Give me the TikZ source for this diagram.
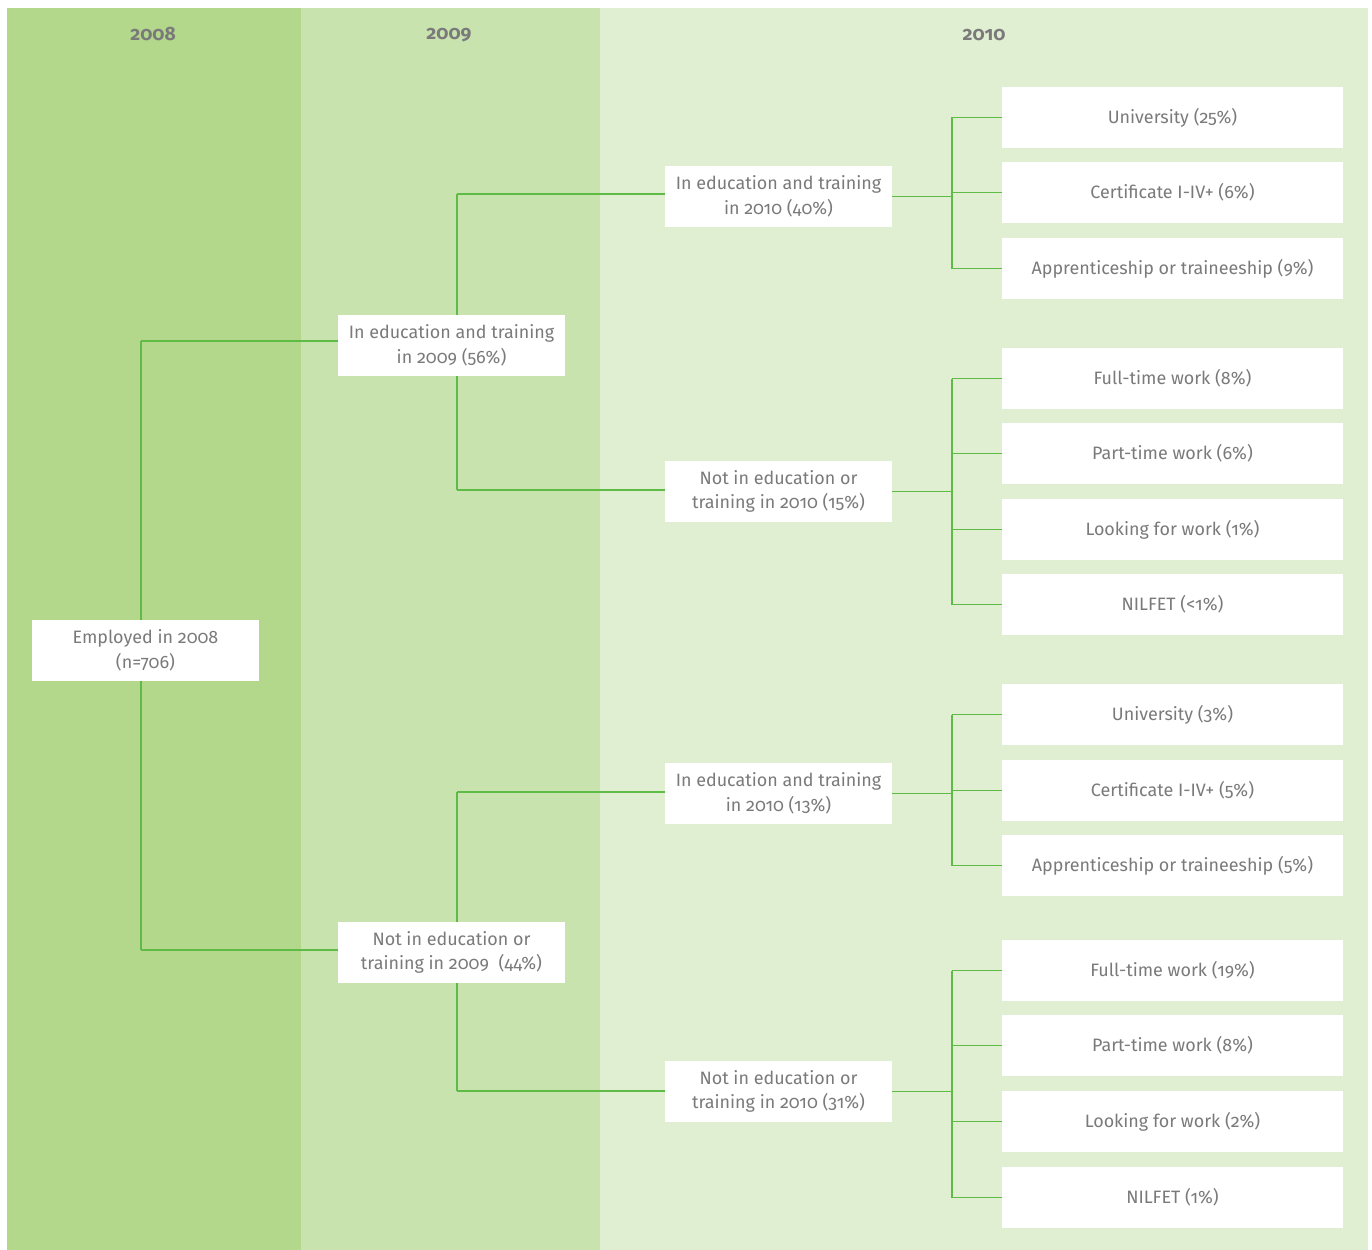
\documentclass[tikz,border=0pt]{standalone}
\usepackage{fontspec}
\setmainfont{Fira Sans}[Numbers=OldStyle]
\definecolor{colA}{HTML}{B3D78B}
\definecolor{colB}{HTML}{C9E3AF}
\definecolor{colC}{HTML}{E0EED1}
\definecolor{txt}{HTML}{7A7A7A}
\definecolor{ln}{HTML}{5DBB46}
\begin{document}
\begin{tikzpicture}[x=0.02cm,y=-0.02cm,
  box/.style={fill=white,text=txt,align=center,inner sep=0pt,minimum width=4.54cm,minimum height=1.22cm,font=\fontsize{10.2}{13.9}\selectfont},
  leaf/.style={box,minimum width=6.82cm},
  hdr/.style={text=txt,font=\fontsize{11}{12}\selectfont\bfseries},
  conn/.style={draw=ln,line width=0.8pt}]
\useasboundingbox (0,0) rectangle (1372,1250);
\fill[colA] (7,8) rectangle (301,1250);
\fill[colB] (301,8) rectangle (600,1250);
\fill[colC] (600,8) rectangle (1368,1250);
\node[hdr] (h1) at (153,34) {2008};
\node[hdr] (h2) at (449,35) {2009};
\node[hdr] (h3) at (984,35) {2010};
% coordinates for branch points
\coordinate (e1) at (141,341);
\coordinate (e2) at (141,950);
\coordinate (a1) at (457,194);
\coordinate (a2) at (457,490);
\coordinate (b1) at (457,792);
\coordinate (b2) at (457,1091);
% connectors (drawn first, behind boxes)
\draw[conn] (e1) -- (e2);
\draw[conn] (a1) -- (a2);
\draw[conn] (b1) -- (b2);
% nodes
\node[box] (emp) at (145.5,650.5) {Employed in 2008\\(n=706)};
\node[box] (y1) at (451.5,345.5) {In education and training\\in 2009 (56\%)};
\node[box] (y2) at (451.5,952.5) {Not in education or\\training in 2009\ \ (44\%)};
\node[box] (z1) at (778.5,196.5) {In education and training\\in 2010 (40\%)};
\node[box] (z2) at (778.5,491.5) {Not in education or\\training in 2010 (15\%)};
\node[box] (z3) at (778.5,793.5) {In education and training\\in 2010 (13\%)};
\node[box] (z4) at (778.5,1091.5) {Not in education or\\training in 2010 (31\%)};
\node[leaf] (l1) at (1172.5,117.5) {University (25\%)};
\node[leaf] (l2) at (1172.5,192.5) {Certificate I-IV+ (6\%)};
\node[leaf] (l3) at (1172.5,268.5) {Apprenticeship or traineeship (9\%)};
\node[leaf] (l4) at (1172.5,378.5) {Full-time work (8\%)};
\node[leaf] (l5) at (1172.5,453.5) {Part-time work (6\%)};
\node[leaf] (l6) at (1172.5,529.5) {Looking for work (1\%)};
\node[leaf] (l7) at (1172.5,604.5) {NILFET (<1\%)};
\node[leaf] (l8) at (1172.5,714.5) {University (3\%)};
\node[leaf] (l9) at (1172.5,790.5) {Certificate I-IV+ (5\%)};
\node[leaf] (l10) at (1172.5,865.5) {Apprenticeship or traineeship (5\%)};
\node[leaf] (l11) at (1172.5,970.5) {Full-time work (19\%)};
\node[leaf] (l12) at (1172.5,1045.5) {Part-time work (8\%)};
\node[leaf] (l13) at (1172.5,1121.5) {Looking for work (2\%)};
\node[leaf] (l14) at (1172.5,1197.5) {NILFET (1\%)};
% horizontal connectors level 1
\draw[conn] (e1) -- (y1.west |- e1);
\draw[conn] (e2) -- (y2.west |- e2);
\draw[conn] (a1) -- (z1.west |- a1);
\draw[conn] (a2) -- (z2.west |- a2);
\draw[conn] (b1) -- (z3.west |- b1);
\draw[conn] (b2) -- (z4.west |- b2);
% right-side trees
\foreach \p/\f/\l/\all in {z1/l1/l3/{l1,l2,l3}, z2/l4/l7/{l4,l5,l6,l7}, z3/l8/l10/{l8,l9,l10}, z4/l11/l14/{l11,l12,l13,l14}}{
  \draw[conn] (\p.east) -- (952,0 |- \p.east);
  \draw[conn] (952,0 |- \f.west) -- (952,0 |- \l.west);
  \foreach \q in \all {\draw[conn] (952,0 |- \q.west) -- (\q.west);}
}
\end{tikzpicture}
\end{document}
